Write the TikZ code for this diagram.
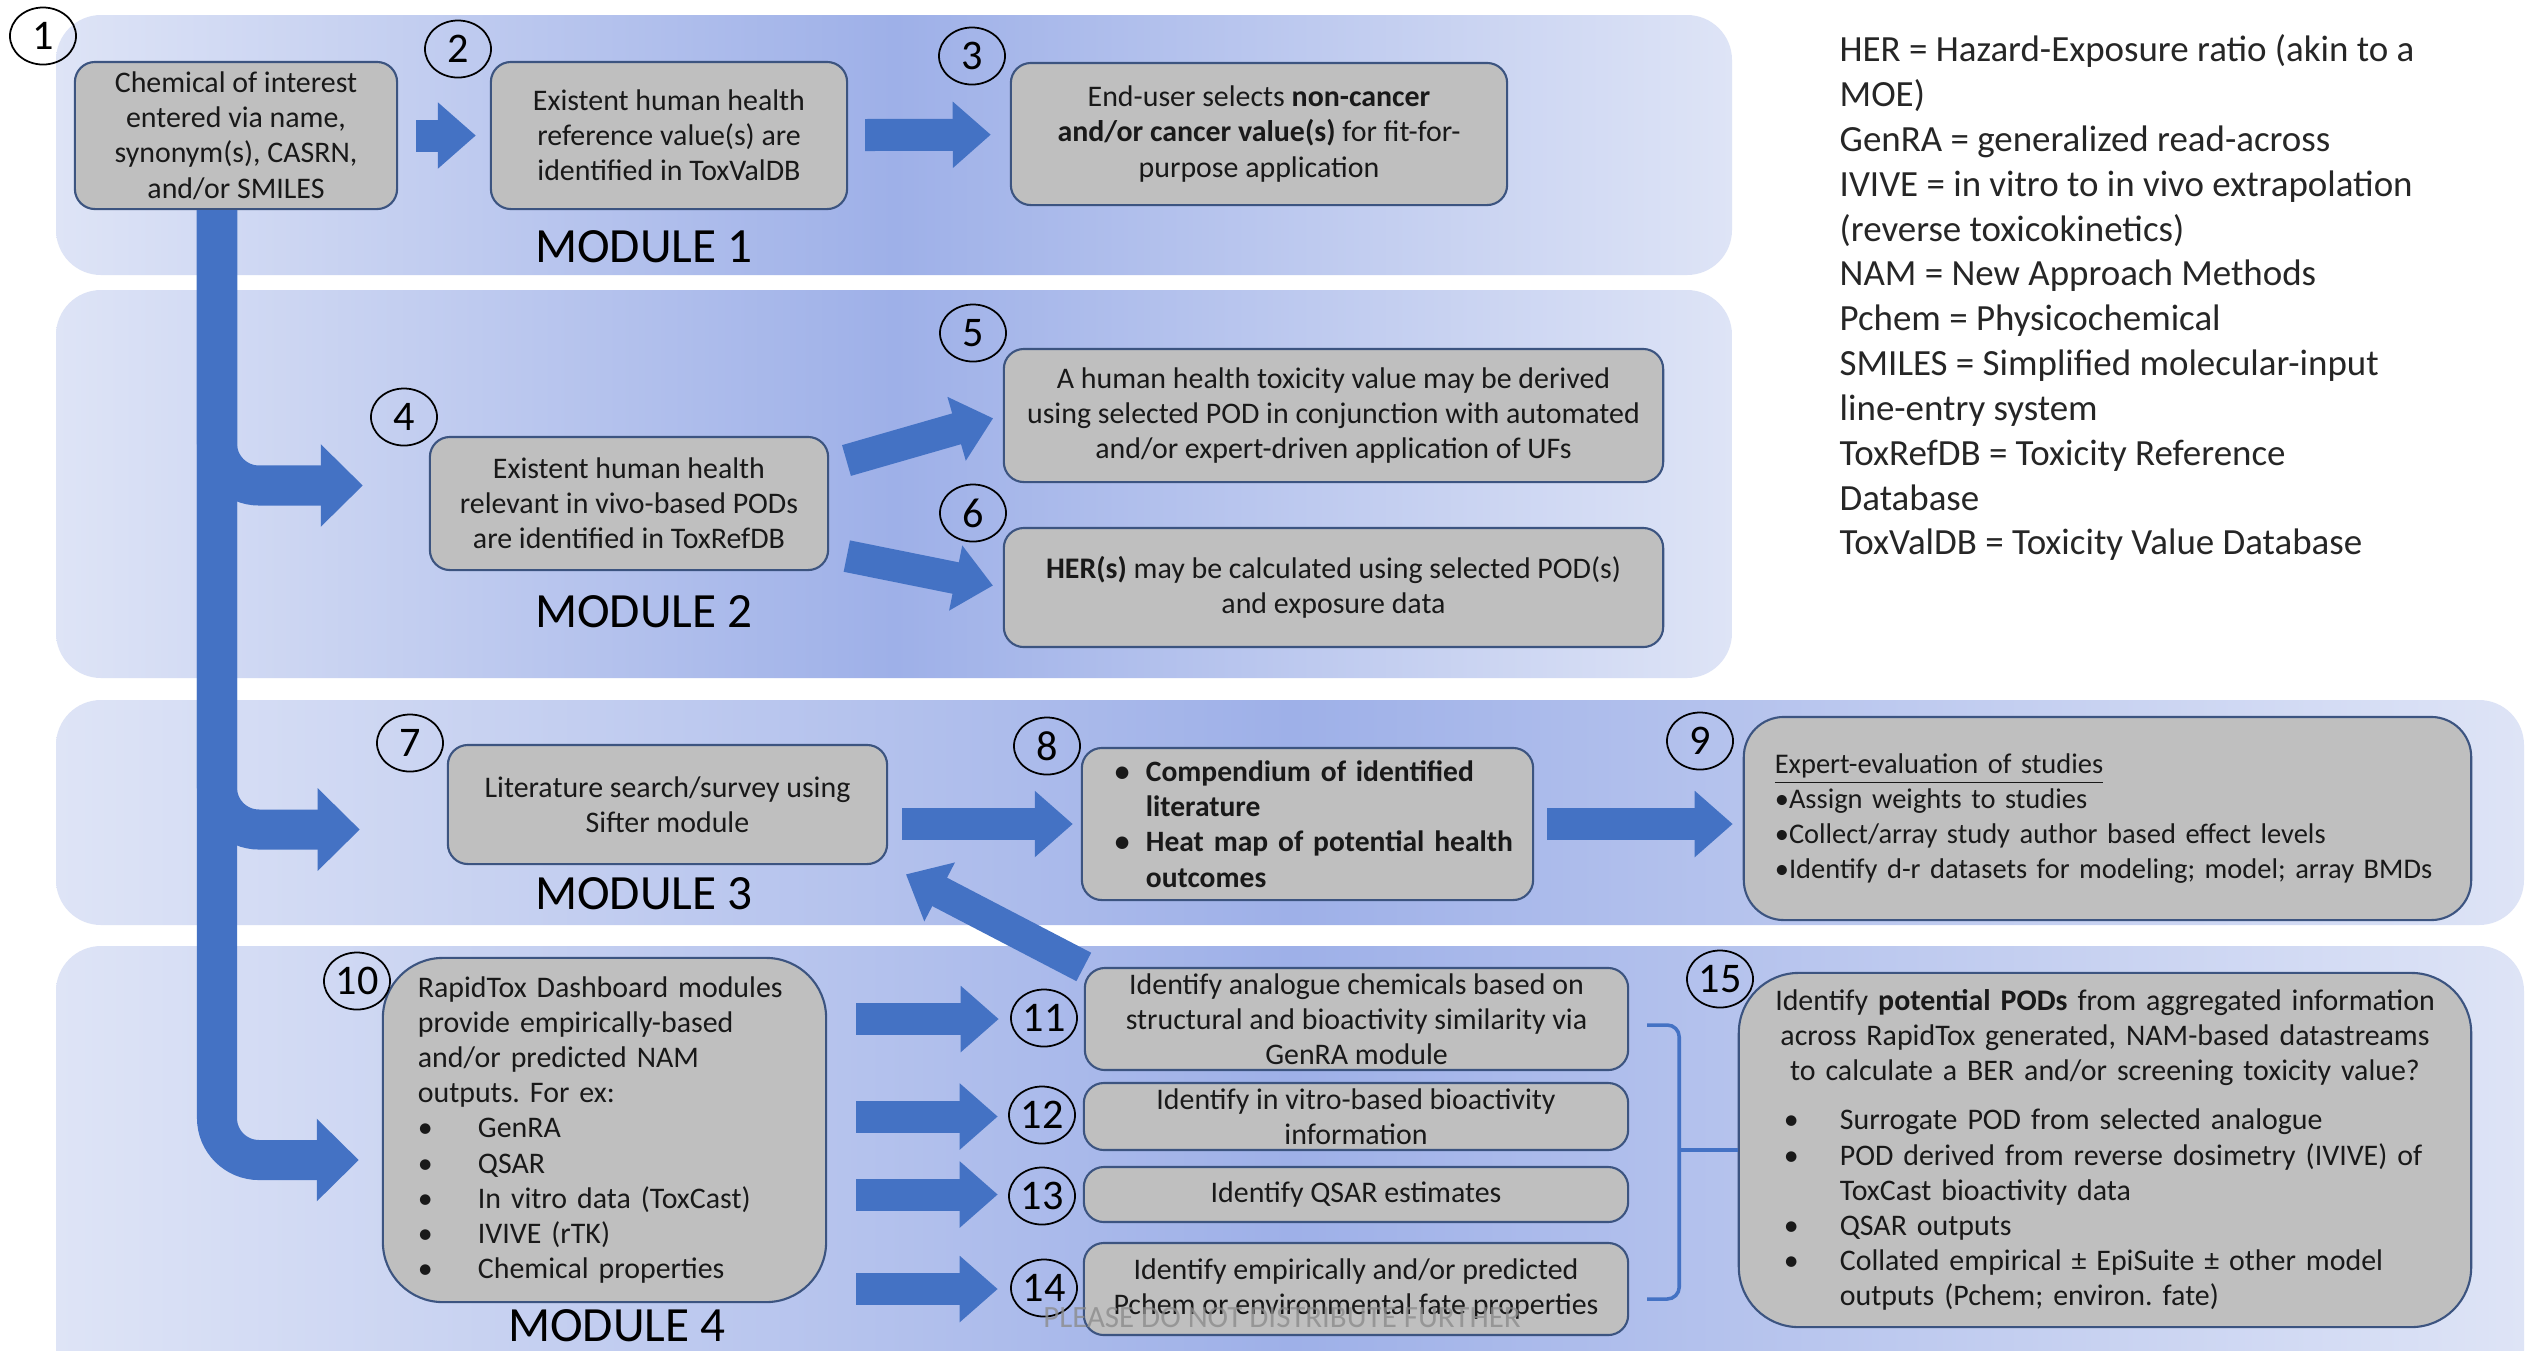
\documentclass[tikz,border=0pt]{standalone}
\usepackage{fontspec}
\setmainfont{Carlito}
\usetikzlibrary{arrows.meta,shapes.geometric}
\definecolor{modlight}{RGB}{222,228,246}
\definecolor{moddark}{RGB}{158,176,232}
\definecolor{boxgray}{RGB}{191,191,191}
\definecolor{boxline}{RGB}{60,84,128}
\definecolor{arrblue}{RGB}{68,114,196}
\setlength{\parindent}{0pt}
\frenchspacing
\newcommand{\bul}[1]{\makebox[#1][l]{\textbullet}}

\begin{document}
\begin{tikzpicture}[x=0.01cm,y=-0.01cm,
  module/.style={rounded corners=0.45cm,left color=modlight,right color=modlight,middle color=moddark},
  grybox/.style={draw=boxline,fill=boxgray,rounded corners=0.2cm,line width=0.6pt,align=center,
    inner sep=0pt,text=black!90,font=\fontsize{8.5}{10}\selectfont},
  num/.style={ellipse,draw,line width=0.5pt,minimum width=0.66cm,minimum height=0.57cm,
    inner sep=0pt,font=\fontsize{12}{12}\selectfont},
  modlabel/.style={font=\fontsize{14}{14}\selectfont},
  blk/.style={draw=arrblue,line width=0.32cm,-{Triangle[length=0.38cm,width=0.64cm]}},
  bent/.style={draw=arrblue,line width=0.4cm,rounded corners=0.42cm,-{Triangle[length=0.42cm,width=0.8cm]}},
  bracepath/.style={draw=arrblue,line width=1pt,rounded corners=0.12cm}]
  \useasboundingbox (0,0) rectangle (2526,1350);
  \clip (0,0) rectangle (2526,1350);
  \fill[white] (0,0) rectangle (2526,1350);

  % module panels
  \path[module] (56,15) rectangle (1732,275);
  \path[module] (56,290) rectangle (1732,678);
  \path[module] (56,700) rectangle (2524,925);
  \path[module] (56,946) rectangle (2524,1420);
  \node[modlabel] (m1) at (644,247) {MODULE 1};
  \node[modlabel] (m2) at (644,612) {MODULE 2};
  \node[modlabel] (m3) at (644,894) {MODULE 3};
  \node[modlabel] (m4) at (617,1326) {MODULE 4};

  % module 1
  \node[grybox,minimum width=3.22cm,minimum height=1.47cm] (chem) at (236,135.5)
    {Chemical of interest\\entered via name,\\synonym(s), CASRN,\\and/or SMILES};
  \node[grybox,minimum width=3.56cm,minimum height=1.47cm] (toxval) at (669,135.5)
    {Existent human health\\reference value(s) are\\identified in ToxValDB};
  \node[grybox,minimum width=4.96cm,minimum height=1.42cm] (select) at (1259,134)
    {End-user selects \textbf{non-cancer}\\\textbf{and/or cancer value(s)} for fit-for-\\purpose application};

  % module 2
  \node[grybox,minimum width=3.98cm,minimum height=1.33cm] (toxref) at (629,503.5)
    {Existent human health\\relevant in vivo-based PODs\\are identified in ToxRefDB};
  \node[grybox,minimum width=6.59cm,minimum height=1.33cm] (derive) at (1333.5,415.5)
    {A human health toxicity value may be derived\\using selected POD in conjunction with automated\\and/or expert-driven application of UFs};
  \node[grybox,minimum width=6.59cm,minimum height=1.19cm] (her) at (1333.5,587.5)
    {\textbf{HER(s)} may be calculated using selected POD(s)\\and exposure data};

  % module 3
  \node[grybox,minimum width=4.39cm,minimum height=1.19cm] (lit) at (667.5,804.5)
    {Literature search/survey using\\Sifter module};
  \node[grybox,align=left,text width=4.31cm,inner xsep=0.1cm,minimum height=1.52cm,
    font=\fontsize{8.4}{10}\selectfont\bfseries] (comp) at (1307.5,824)
    {\leftskip=0.23cm\bul{0.31cm}Compendium of identified\\\hspace*{0.31cm}literature\\\bul{0.31cm}Heat map of potential health\\\hspace*{0.31cm}outcomes\par};
  \node[grybox,align=left,text width=7.07cm,inner xsep=0.1cm,minimum height=2.03cm,
    rounded corners=0.4cm,font=\fontsize{8.1}{10}\selectfont] (expert) at (2107.5,818.5)
    {\leftskip=0.21cm\underline{Expert-evaluation of studies}\\\textbullet Assign weights to studies\\\textbullet Collect/array study author based effect levels\\\textbullet Identify d-r datasets for modeling; model; array BMDs\par};

  % module 4
  \node[grybox,align=left,text width=3.73cm,inner xsep=0.35cm,minimum height=3.44cm,
    rounded corners=0.6cm] (dash) at (604.5,1130)
    {RapidTox Dashboard modules\\provide empirically-based\\and/or predicted NAM\\outputs. For ex:\\
     \bul{0.6cm}GenRA\\\bul{0.6cm}QSAR\\\bul{0.6cm}In vitro data (ToxCast)\\\bul{0.6cm}IVIVE (rTK)\\\bul{0.6cm}Chemical properties\par};
  \node[grybox,minimum width=5.43cm,minimum height=1.02cm] (genra) at (1356.5,1019)
    {Identify analogue chemicals based on\\structural and bioactivity similarity via\\GenRA module};
  \node[grybox,minimum width=5.44cm,minimum height=0.67cm] (invitro) at (1356,1116.5)
    {Identify in vitro-based bioactivity\\information};
  \node[grybox,minimum width=5.44cm,minimum height=0.55cm] (qsar) at (1356,1194.5)
    {Identify QSAR estimates};
  \node[grybox,minimum width=5.44cm,minimum height=0.92cm] (pchem) at (1356,1289)
    {Identify empirically and/or predicted\\Pchem or environmental fate properties};
  \node[grybox,align=left,text width=7.12cm,inner xsep=0.1cm,minimum height=3.54cm,
    rounded corners=0.6cm] (pods) at (2105,1150)
    {\centering Identify \textbf{potential PODs} from aggregated information\\across RapidTox generated, NAM-based datastreams\\to calculate a BER and/or screening toxicity value?\par
     \vspace{0.14cm}\raggedright\leftskip=0.35cm
     \bul{0.56cm}Surrogate POD from selected analogue\\\bul{0.56cm}POD derived from reverse dosimetry (IVIVE) of\\\hspace*{0.56cm}ToxCast bioactivity data\\
     \bul{0.56cm}QSAR outputs\\\bul{0.56cm}Collated empirical ± EpiSuite ± other model\\\hspace*{0.56cm}outputs (Pchem; environ. fate)\par};

  % step numbers
  \node[num] (n1) at (43,36) {1};
  \node[num] (n2) at (458,49) {2};
  \node[num] (n3) at (972,56) {3};
  \node[num] (n4) at (404,417) {4};
  \node[num] (n5) at (973,333) {5};
  \node[num] (n6) at (973,513) {6};
  \node[num] (n7) at (410,743) {7};
  \node[num] (n8) at (1047,746) {8};
  \node[num] (n9) at (1700,741) {9};
  \node[num] (n10) at (357,981) {10};
  \node[num] (n11) at (1044,1018) {11};
  \node[num] (n12) at (1042,1115) {12};
  \node[num] (n13) at (1042,1196) {13};
  \node[num] (n14) at (1044,1288) {14};
  \node[num] (n15) at (1720,979) {15};

  % trunk with branches
  \coordinate (top) at ([xshift=-0.19cm]chem.south);
  \draw[bent,shorten >=0.23cm] (top) |- ([yshift=-0.3cm]dash.west);
  \draw[bent,shorten >=0.87cm] (top) |- ([yshift=-0.25cm]lit.west);
  \draw[bent,shorten >=0.66cm] (top) |- ([yshift=0.18cm]toxref.west);

  % block arrows
  \draw[blk,shorten <=0.18cm,shorten >=0.14cm] (chem) -- (toxval);
  \draw[blk,shorten <=0.17cm,shorten >=0.19cm] (toxval) -- (select);
  \draw[blk,shorten <=0.18cm,shorten >=0.1cm] ([yshift=0.38cm]toxref.east) -- (derive.west);
  \draw[blk,shorten <=0.18cm,shorten >=0.1cm] ([yshift=-0.49cm]toxref.east) -- (her.west);
  \draw[blk,shorten <=0.14cm,shorten >=0.08cm] (lit.east |- comp.west) -- (comp.west);
  \draw[blk,shorten <=0.13cm,shorten >=0.1cm] (comp.east) -- (expert.west |- comp.east);
  \draw[blk,shorten >=0.2cm] (genra.north west) -- (lit.south east);
  \draw[blk,shorten <=0.29cm,shorten >=0.85cm] (dash.east |- genra.west) -- (genra.west);
  \draw[blk,shorten <=0.29cm,shorten >=0.85cm] (dash.east |- invitro.west) -- (invitro.west);
  \draw[blk,shorten <=0.29cm,shorten >=0.85cm] (dash.east |- qsar.west) -- (qsar.west);
  \draw[blk,shorten <=0.29cm,shorten >=0.85cm] (dash.east |- pchem.west) -- (pchem.west);

  % bracket into box 15
  \draw[bracepath] ([xshift=0.18cm,yshift=-0.06cm]genra.east) -| ([xshift=0.5cm,yshift=-0.1cm]pchem.east)
    -- ([xshift=0.18cm,yshift=-0.1cm]pchem.east);
  \draw[bracepath] ([xshift=0.5cm]genra.east |- pods.west) -- (pods.west);

  % abbreviations
  \node[anchor=north west,align=left,inner sep=0pt,text=black!85,
    font=\fontsize{10.5}{12.75}\selectfont] (legend) at (1839,34)
    {HER = Hazard-Exposure ratio (akin to a\\MOE)\\GenRA = generalized read-across\\IVIVE = in vitro to in vivo extrapolation\\(reverse toxicokinetics)\\NAM = New Approach Methods\\Pchem = Physicochemical\\SMILES = Simplified molecular-input\\line-entry system\\ToxRefDB = Toxicity Reference\\Database\\ToxValDB = Toxicity Value Database};

  \node[text=black!45,opacity=0.8,font=\fontsize{8.8}{10}\selectfont] (wm) at (1282,1318)
    {PLEASE DO NOT DISTRIBUTE FURTHER};
\end{tikzpicture}
\end{document}
